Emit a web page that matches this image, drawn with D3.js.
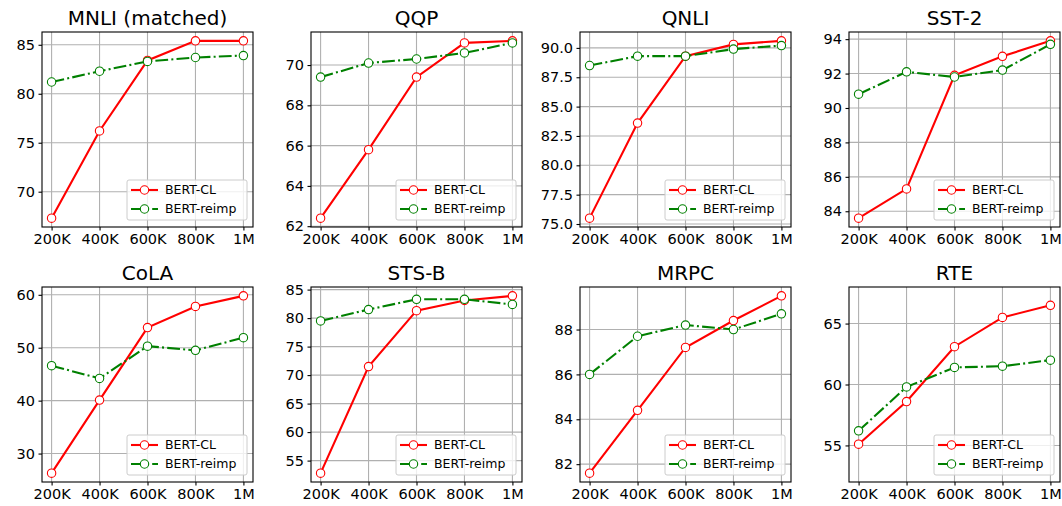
<!DOCTYPE html>
<html>
<head>
<meta charset="utf-8">
<script src="https://cdn.jsdelivr.net/npm/d3@7"></script>
<style>
  body { margin: 0; background: #fff; }
  text { font-family: "DejaVu Sans", sans-serif; fill: #000; }
</style>
</head>
<body>
<div id="chart"></div>
<script>
const steps = ["200K", "400K", "600K", "800K", "1M"];
const tasks = ["MNLI (matched)", "QQP", "QNLI", "SST-2", "CoLA", "STS-B", "MRPC", "RTE"];
const seriesNames = ["BERT-CL", "BERT-reimp"];

const bertCL = [
  [67.3, 76.2, 83.4, 85.4, 85.4],
  [62.4, 65.8, 69.4, 71.1, 71.2],
  [75.5, 83.6, 89.3, 90.3, 90.6],
  [83.6, 85.3, 91.9, 93.0, 93.9],
  [26.3, 40.1, 53.8, 57.8, 59.8],
  [52.8, 71.5, 81.3, 83.1, 83.9],
  [81.6, 84.4, 87.2, 88.4, 89.5],
  [55.1, 58.6, 63.1, 65.5, 66.5]
];
const bertReimp = [
  [81.2, 82.3, 83.3, 83.7, 83.9],
  [69.4, 70.1, 70.3, 70.6, 71.1],
  [88.5, 89.3, 89.3, 89.9, 90.2],
  [90.8, 92.1, 91.8, 92.2, 93.7],
  [46.6, 44.2, 50.3, 49.5, 51.9],
  [79.5, 81.5, 83.3, 83.3, 82.4],
  [86.0, 87.7, 88.2, 88.0, 88.7],
  [56.2, 59.8, 61.4, 61.5, 62.0]
];
const yTicks = [
  [70, 75, 80, 85],
  [62, 64, 66, 68, 70],
  [75, 77.5, 80, 82.5, 85, 87.5, 90],
  [84, 86, 88, 90, 92, 94],
  [30, 40, 50, 60],
  [55, 60, 65, 70, 75, 80, 85],
  [82, 84, 86, 88],
  [55, 60, 65]
];
const yFormats = [".0f", ".0f", ".1f", ".0f", ".0f", ".0f", ".0f", ".0f"];
const yLimits = [null, null, null, null, null, null, null, [52, 68]];

const W = 1062, H = 506;
const colLeft = [42, 311, 580, 849];
const rowTop = [32, 287];
const pw = 211, ph = 195;
const colors = ["#ff0000", "#008000"];

const svg = d3.select("#chart").append("svg")
  .attr("width", W)
  .attr("height", H);

tasks.forEach((task, i) => {
  const g = svg.append("g")
    .attr("transform", `translate(${colLeft[i % 4]}, ${rowTop[Math.floor(i / 4)]})`);

  const x = d3.scalePoint().domain(steps).range([0, pw]).padding(0.2);

  let dom = yLimits[i];
  if (!dom) {
    const all = bertCL[i].concat(bertReimp[i]);
    const lo = d3.min(all), hi = d3.max(all), pad = (hi - lo) * 0.05;
    dom = [lo - pad, hi + pad];
  }
  const y = d3.scaleLinear().domain(dom).range([ph, 0]);

  // grid
  g.append("g").selectAll("line.gx")
    .data(steps).enter().append("line")
    .attr("x1", d => x(d)).attr("x2", d => x(d))
    .attr("y1", 0).attr("y2", ph)
    .attr("stroke", "#b0b0b0").attr("stroke-width", 1.1);
  g.append("g").selectAll("line.gy")
    .data(yTicks[i]).enter().append("line")
    .attr("x1", 0).attr("x2", pw)
    .attr("y1", d => y(d)).attr("y2", d => y(d))
    .attr("stroke", "#b0b0b0").attr("stroke-width", 1.1);

  // axes
  const xAxis = g.append("g")
    .attr("transform", `translate(0, ${ph})`)
    .call(d3.axisBottom(x).tickSize(3.5).tickPadding(3.5));
  const yAxis = g.append("g")
    .call(d3.axisLeft(y).tickValues(yTicks[i]).tickFormat(d3.format(yFormats[i])).tickSize(3.5).tickPadding(3.5));
  [xAxis, yAxis].forEach(a => {
    a.select(".domain").remove();
    a.selectAll(".tick line").attr("stroke", "#000").attr("stroke-width", 1.1);
    a.selectAll(".tick text").style("font-size", "14.5px").attr("fill", "#000");
  });

  // lines
  const line = d3.line().x((d, j) => x(steps[j])).y(d => y(d));
  [bertCL[i], bertReimp[i]].forEach((vals, s) => {
    g.append("path")
      .datum(vals)
      .attr("d", line)
      .attr("fill", "none")
      .attr("stroke", colors[s])
      .attr("stroke-width", 2.1)
      .attr("stroke-dasharray", s === 1 ? "12.8,3.2,2,3.2" : null);
    g.selectAll(null)
      .data(vals).enter().append("circle")
      .attr("cx", (d, j) => x(steps[j]))
      .attr("cy", d => y(d))
      .attr("r", 4.2)
      .attr("fill", "#fff")
      .attr("stroke", colors[s])
      .attr("stroke-width", 1.1);
  });

  // frame
  g.append("rect")
    .attr("width", pw).attr("height", ph)
    .attr("fill", "none").attr("stroke", "#000").attr("stroke-width", 1.1);

  // title
  g.append("text")
    .attr("x", pw / 2).attr("y", -7)
    .attr("text-anchor", "middle")
    .style("font-size", "20px")
    .text(task);

  // legend
  const lw = 120, lh = 40;
  const leg = g.append("g").attr("transform", `translate(${pw - lw - 6}, ${ph - lh - 7})`);
  leg.append("rect")
    .attr("width", lw).attr("height", lh).attr("rx", 2)
    .attr("fill", "#fff").attr("fill-opacity", 0.8)
    .attr("stroke", "#cccccc").attr("stroke-width", 1);
  seriesNames.forEach((name, s) => {
    const ly = 10 + s * 19;
    leg.append("line")
      .attr("x1", 4).attr("x2", 31).attr("y1", ly).attr("y2", ly)
      .attr("stroke", colors[s]).attr("stroke-width", 2.1)
      .attr("stroke-dasharray", s === 1 ? "12.8,3.2,2,3.2" : null);
    leg.append("circle")
      .attr("cx", 17.5).attr("cy", ly).attr("r", 4.2)
      .attr("fill", "#fff").attr("stroke", colors[s]).attr("stroke-width", 1.1);
    leg.append("text")
      .attr("x", 38).attr("y", ly).attr("dy", "0.35em")
      .style("font-size", "12.5px")
      .text(name);
  });
});
</script>
</body>
</html>
